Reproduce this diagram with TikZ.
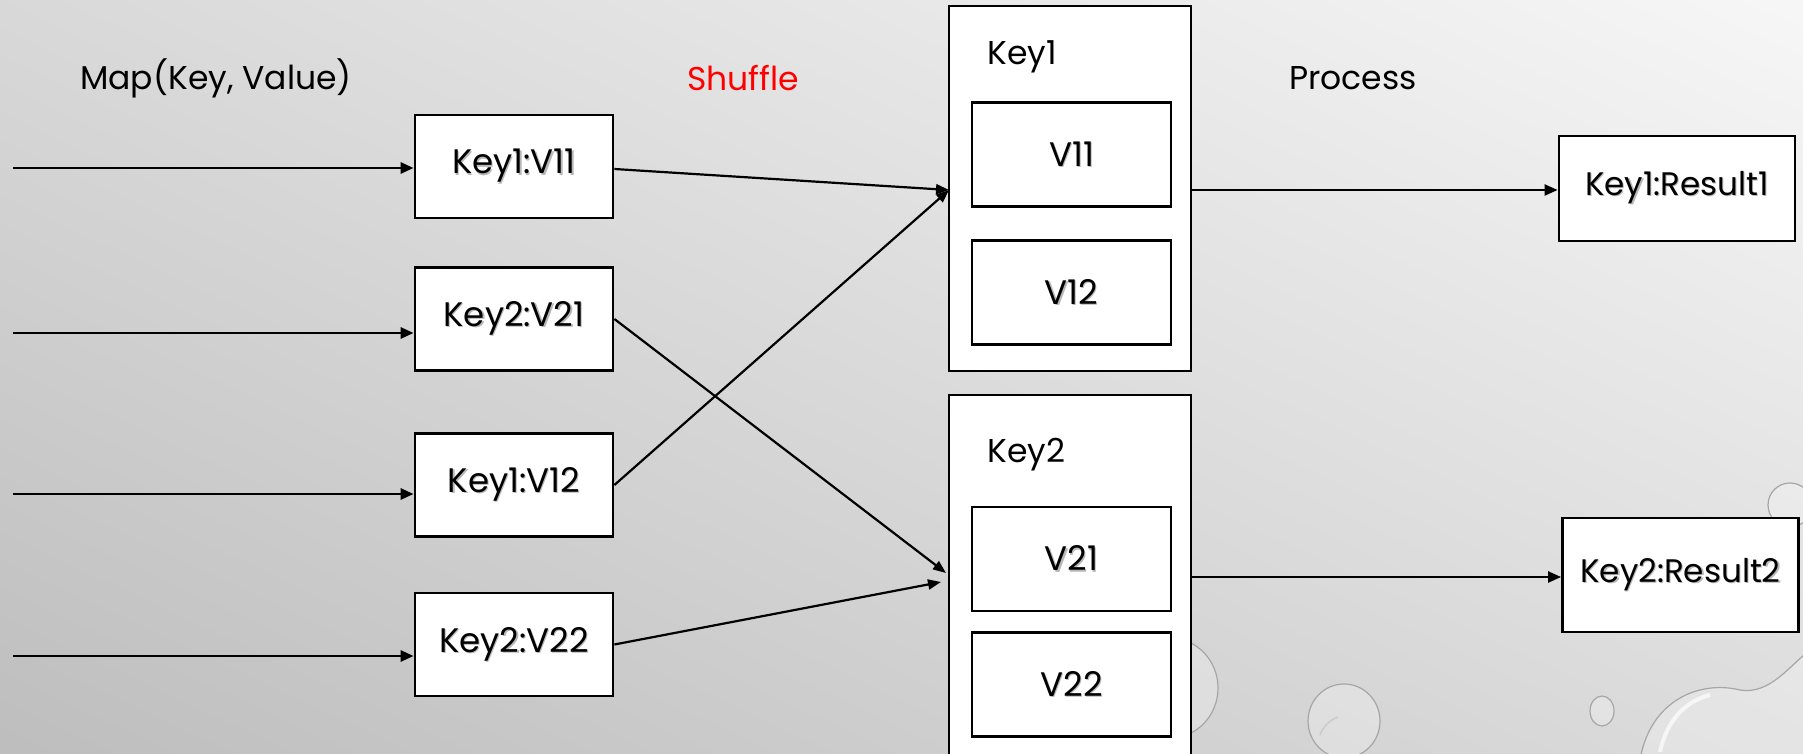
\documentclass[tikz,border=0pt]{standalone}
\usepackage{fontspec}
\setmainfont{Poppins}[Numbers=Monospaced]
\usetikzlibrary{arrows.meta,calc}

% label text with a soft drop shadow underneath
\newcommand\shtext[1]{\makebox[0pt][l]{\hspace{0.6pt}\raisebox{-0.6pt}{\textcolor{black!28}{#1}}}#1}

\tikzset{
  lbl/.style={font=\fontsize{16.5}{19}\selectfont, inner sep=0pt},
  boxfont/.style={font=\fontsize{17}{20}\selectfont},
  kvbox/.style={draw=black, line width=1.4pt, fill=white, rectangle,
    minimum width=99pt, minimum height=51.5pt, inner sep=0pt, boxfont},
  groupbox/.style={draw=black, line width=1.4pt, fill=white, rectangle,
    minimum width=121pt, inner sep=0pt},
  valbox/.style={draw=black, line width=1.4pt, fill=white, rectangle,
    minimum width=99.5pt, minimum height=52pt, inner sep=0pt, boxfont},
  resbox/.style={draw=black, line width=1.4pt, fill=white, rectangle,
    minimum width=118pt, inner sep=0pt, font=\fontsize{16.3}{19}\selectfont},
  feed/.style={line width=1.4pt, -{Triangle[length=6.5pt,width=5.5pt]}},
  route/.style={line width=1.1pt, -{Triangle[length=6.5pt,width=5pt]}},
  drop/.style={draw=black!35, line width=0.6pt, fill=white, fill opacity=0.25},
}

\begin{document}
\begin{tikzpicture}[x=0.5pt,y=-0.5pt]
  % page and background gradient
  \useasboundingbox (0,0) rectangle (1803,754);
  \clip (0,0) rectangle (1803,754);
  \shade[shading=axis, top color=white!97!black, bottom color=black!26,
         shading angle=-25] (-200,-200) rectangle (2003,954);

  % water drops in the lower right
  \draw[drop] (1170,688) circle[x radius=48, y radius=50];
  \draw[drop] (1344,721) circle[x radius=36, y radius=37];
  \draw[black!20, line width=0.8pt] (1320,735) arc[start angle=200, end angle=250, radius=30];
  \draw[drop] (1602,711) circle[x radius=12, y radius=15];
  \draw[drop] (1790,505) circle[radius=22];
  \draw[drop] (1640,760) .. controls (1650,700) and (1700,680) .. (1740,690)
        .. controls (1770,695) and (1790,665) .. (1810,650) -- (1810,770) -- cycle;
  \draw[white, line width=2pt, opacity=0.7] (1660,752) .. controls (1668,715) and (1690,700) .. (1710,695);

  % headings
  \node[lbl, anchor=center] (hmap) at (216,78) {Map(Key, Value)};
  \node[lbl, anchor=center, text=red] (hshuf) at (743,78) {Shuffle};
  \node[lbl, anchor=center] (hproc) at (1353,78) {Process};

  % mapped key/value pairs
  \node[kvbox] (k11) at (514,166.5) {\shtext{Key1:V11}};
  \node[kvbox] (k21) at (514,319) {\shtext{Key2:V21}};
  \node[kvbox] (k12) at (514,485) {\shtext{Key1:V12}};
  \node[kvbox] (k22) at (514,644.5) {\shtext{Key2:V22}};

  % input arrows
  \coordinate (in1) at (13,168);
  \coordinate (in2) at (13,333);
  \coordinate (in3) at (13,494);
  \coordinate (in4) at (13,656);
  \draw[feed] (in1) -- (k11.west |- in1);
  \draw[feed] (in2) -- (k21.west |- in2);
  \draw[feed] (in3) -- (k12.west |- in3);
  \draw[feed] (in4) -- (k22.west |- in4);

  % grouped keys
  \node[groupbox, minimum height=182.5pt] (g1) at (1070,188.5) {};
  \node[groupbox, minimum height=190pt] (g2) at (1070,585) {};
  \node[lbl, anchor=west] (g1t) at (987,57) {Key1};
  \node[lbl, anchor=west] (g2t) at (987,455) {Key2};
  \node[valbox] (v11) at (1071.5,154.5) {\shtext{V11}};
  \node[valbox] (v12) at (1071.5,292.5) {\shtext{V12}};
  \node[valbox] (v21) at (1071.5,559) {\shtext{V21}};
  \node[valbox] (v22) at (1071.5,684.5) {\shtext{V22}};

  % shuffle routes
  \coordinate (j1) at (949,190);
  \coordinate (j2a) at (946,573);
  \coordinate (j2b) at (941,582);
  \draw[route] ($(k11.east)+(0,2.5)$) -- (j1);
  \draw[route] (k12.east) -- (j1);
  \draw[route] (k21.east) -- (j2a);
  \draw[route] (k22.east) -- (j2b);

  % results
  \node[resbox, minimum height=52.5pt] (r1) at (1677,188.5) {\shtext{Key1:Result1}};
  \node[resbox, minimum height=57pt] (r2) at (1680.5,575) {\shtext{Key2:Result2}};
  \coordinate (o1) at (1191,190);
  \coordinate (o2) at (1191,577);
  \draw[feed, line width=1.1pt] (o1) -- (r1.west |- o1);
  \draw[feed, line width=1.1pt] (o2) -- (r2.west |- o2);
\end{tikzpicture}
\end{document}
